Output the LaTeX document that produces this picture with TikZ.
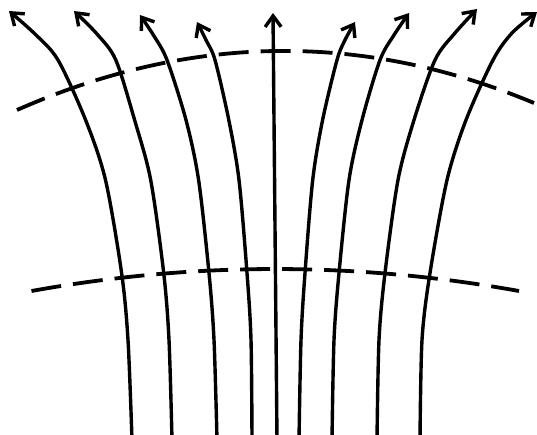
\documentclass[tikz,border=0pt]{standalone}
\usetikzlibrary{arrows.meta}
\begin{document}
\begin{tikzpicture}[x=1pt,y=-1pt,
  fieldline/.style={line width=3.4pt,-{Straight Barb[length=11pt,width=16pt]}},
  equip/.style={line width=3.8pt,dash pattern=on 30pt off 12pt}]
\useasboundingbox (0,0) rectangle (537,434);
% equipotential lines
\draw[equip] (17,110) .. controls (190,33.7) and (362.3,31.3) .. (534,103);
\draw[equip] (31.5,291) .. controls (193.7,261.7) and (356.2,261.7) .. (519,291);
% field lines
\draw[fieldline] plot[smooth] coordinates {(132,440) (128,340) (121.6,273) (105.5,180) (85.6,120) (58,60) (35,34) (9,11)};
\draw[fieldline] plot[smooth] coordinates {(172,440) (169,340) (163.7,273) (150.7,180) (134.6,120) (115.8,60) (97,34) (74,11)};
\draw[fieldline] plot[smooth] coordinates {(217,440) (214,340) (209,273) (198.6,180) (186,120) (167,60) (154,36) (140,15)};
\draw[fieldline] plot[smooth] coordinates {(252,440) (251,340) (247,273) (239,180) (228.8,120) (215,60) (206,40) (197,22)};
\draw[fieldline] (277,440) -- (273,13);
\draw[fieldline] plot[smooth] coordinates {(299,440) (301,340) (305,273) (312.7,180) (322.6,120) (337,60) (345,40) (355,22)};
\draw[fieldline] plot[smooth] coordinates {(332,440) (334,340) (339,273) (349,180) (362,120) (380,60) (394,35) (409,13)};
\draw[fieldline] plot[smooth] coordinates {(377,440) (379,340) (385,273) (398,180) (414,120) (435,60) (455,33) (477,9)};
\draw[fieldline] plot[smooth] coordinates {(420,440) (422,340) (430,273) (447,180) (466,120) (493,60) (512,33) (537,12)};
\end{tikzpicture}
\end{document}
